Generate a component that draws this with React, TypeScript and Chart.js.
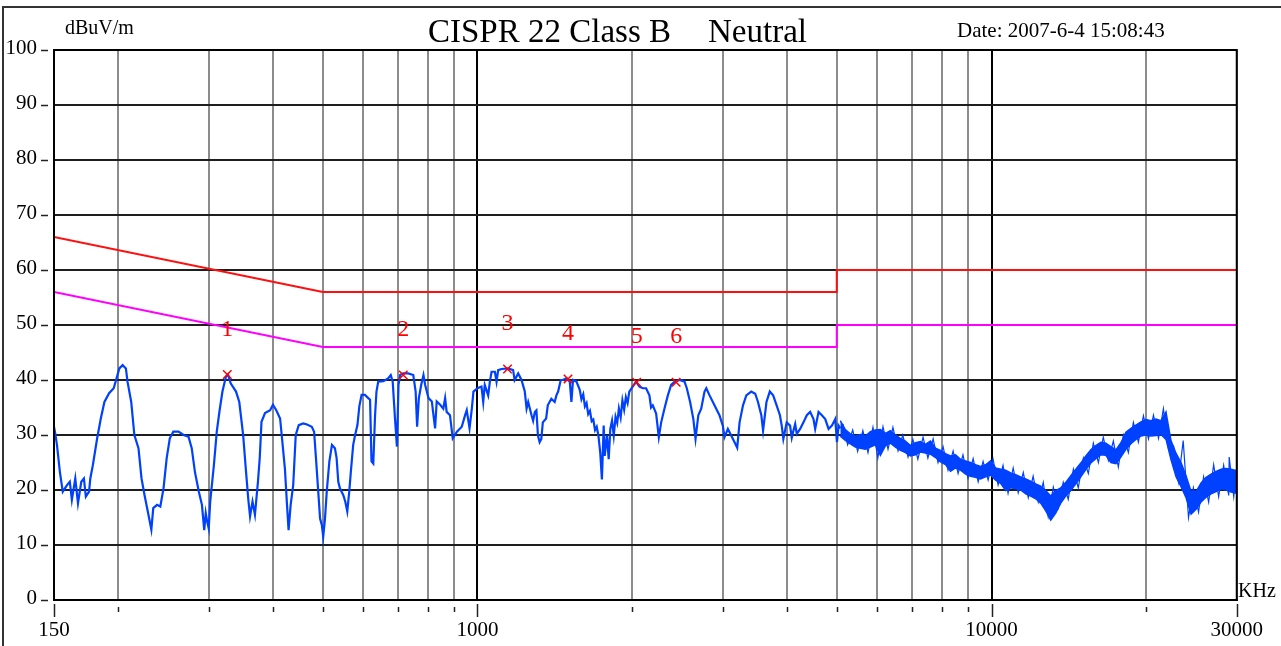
import React, { useEffect, useRef } from 'react';
import { Chart, registerables } from 'chart.js';

Chart.register(...registerables);

// ---------- axes ----------
const gridFreqs = [150, 200, 300, 400, 500, 600, 700, 800, 900, 1000, 2000, 3000, 4000, 5000, 6000, 7000, 8000, 9000, 10000, 20000, 30000];
const labeledFreqs = [150, 1000, 10000, 30000];
const decadeFreqs = [1000, 10000];
const yTickValues = [0, 10, 20, 30, 40, 50, 60, 70, 80, 90, 100];

// ---------- limit lines ----------
const qpLimitF = [150, 500, 5000, 5000, 30000];
const qpLimitV = [66, 56, 56, 60, 60];
const avLimitF = [150, 500, 5000, 5000, 30000];
const avLimitV = [56, 46, 46, 50, 50];

// ---------- peak markers ----------
const markerF = [326, 717, 1144, 1500, 2040, 2435];
const markerV = [41.0, 40.9, 42.0, 40.2, 39.6, 39.6];
const markerLabels = ['1', '2', '3', '4', '5', '6'];

// ---------- measured trace (kHz / dBuV) ----------
const traceLowF = [150, 151, 152, 154, 156, 159, 161, 162.5, 165, 167, 169.5, 171.5, 173, 175.5, 176.5, 178.5, 182, 185, 188, 192, 196, 198.5, 201, 204, 207, 208.5, 212, 215, 219, 222, 225, 229, 232, 234, 238, 241.5, 245, 248.5, 252, 256, 262, 268, 274, 278, 282, 287, 291, 294, 296, 298, 300, 302, 307, 311, 315, 319, 324, 327, 331, 339, 344, 347, 350, 355, 358, 361, 365, 369, 374, 377, 380, 386, 395, 400, 406, 413, 416, 422, 426, 429, 433, 438, 443, 449, 458, 466, 476, 481, 485, 490, 494, 498, 501, 505, 509, 515, 521, 528, 532, 536, 540, 544, 548, 553, 558, 563, 567, 573, 578, 584, 589, 595, 604, 613, 618, 622, 627, 632, 636, 641, 656, 670, 678, 684, 691, 697, 702, 707, 717, 733, 750, 758, 763, 769, 777, 785, 791, 797, 803, 815, 821, 827, 833, 846, 858, 865, 871, 884, 895, 912, 932, 946, 953, 965, 975, 982, 1000];
const traceLowV = [31.5, 30, 28.2, 23.3, 19.7, 20.9, 21.5, 18.2, 22.1, 17.6, 21.5, 22.1, 18.8, 19.7, 22.1, 24.5, 29.4, 33, 36, 37.6, 38.5, 40.3, 42.1, 42.7, 42.1, 39.7, 36, 30, 27.6, 22.1, 19.1, 15.5, 12.8, 16.7, 17.3, 17, 20.3, 25.8, 29.4, 30.6, 30.6, 30, 29.7, 27.6, 23.3, 19.7, 17.3, 12.7, 15.8, 14.2, 13, 17.9, 24.5, 30.6, 34.5, 37.9, 40.6, 41, 39.4, 37.9, 36, 33, 30, 22.7, 18.5, 15.2, 17.9, 15.5, 21.5, 25.8, 32.4, 34, 34.5, 35.5, 34.5, 33, 30, 23.9, 17.3, 12.7, 17.3, 20.9, 30, 31.8, 32.1, 31.9, 31.5, 30.6, 25.8, 19.7, 14.8, 13.6, 11.5, 14.8, 19.7, 25.2, 28.2, 27.6, 25.8, 21.5, 20.3, 19.7, 19.1, 17.9, 16.1, 19.7, 23.3, 28.2, 30, 31.8, 35.2, 37.3, 37.3, 36.7, 36.4, 25.2, 24.8, 33.6, 37.9, 39.7, 39.8, 40.3, 40.9, 39.7, 33, 27.9, 39.1, 40.9, 41.2, 41.2, 40.9, 37.9, 31.5, 36.7, 39.1, 40.9, 39.1, 37.9, 36.7, 36.1, 33.6, 31.2, 36.1, 35.5, 34.8, 36.7, 34.2, 33.6, 29.4, 30.6, 31.5, 33.6, 34.5, 31.2, 34.8, 37.9, 38.5];

const traceMidF = [1018, 1026, 1033, 1049, 1057, 1065, 1081, 1089, 1097, 1114, 1147, 1173, 1181, 1200, 1218, 1236, 1246, 1255, 1274, 1283, 1293, 1302, 1311, 1321, 1331, 1340, 1360, 1370, 1392, 1413, 1424, 1435, 1452, 1465, 1490, 1512, 1523, 1534, 1558, 1581, 1593, 1606, 1618, 1630, 1642, 1655, 1668, 1680, 1693, 1706, 1719, 1733, 1746, 1760, 1768, 1786, 1800, 1813, 1827, 1841, 1856, 1870, 1884, 1899, 1914, 1929, 1944, 1959, 1974, 2004, 2034, 2066, 2097, 2128, 2160, 2176, 2193, 2226, 2253, 2277, 2311, 2346, 2381, 2418, 2472, 2528, 2554, 2592, 2630, 2656, 2689, 2724, 2765, 2787, 2828, 2891, 2956, 3001, 3024, 3070, 3116, 3163, 3201, 3235, 3285, 3334, 3409, 3470, 3513, 3566, 3594, 3649, 3704, 3760, 3819, 3876, 3907, 3936, 3995, 4056, 4087, 4118, 4150, 4180, 4243, 4307, 4372, 4438, 4505, 4539, 4608, 4677, 4748, 4820, 4892, 4966, 5004, 5041, 5080];
const traceMidV = [38.8, 36, 39.1, 37.2, 39.7, 41.5, 41.5, 39.7, 41.8, 42, 42.1, 41.8, 40, 41.2, 40, 37.9, 34.8, 36, 33.6, 32.6, 34.2, 34.5, 29.9, 28.7, 29.3, 32.3, 33, 35.4, 36.6, 36, 37.2, 37.9, 40, 40, 40.3, 39.7, 36, 40, 39.7, 38.2, 36.5, 37.4, 35.2, 35.8, 33.8, 34.4, 32.5, 32.8, 30.9, 31.5, 29.9, 26.8, 21.9, 31.7, 26.2, 29.9, 25.6, 31.1, 32.6, 29.9, 33.3, 32.2, 34.8, 33.2, 36.3, 34.6, 36.9, 35.8, 37.9, 38.8, 39.7, 38.8, 38.5, 38.5, 37.2, 35.0, 35.4, 33.9, 29.6, 32.3, 34.8, 37.2, 39.1, 39.7, 40, 39.7, 38.5, 36, 32.9, 29.3, 33.6, 34.8, 37.9, 38.5, 37.2, 35.4, 33.6, 31.7, 29.6, 31.1, 29.9, 28.7, 27.7, 32.3, 35.4, 37.2, 37.9, 37.5, 36, 33.6, 30.8, 36, 37.9, 37.2, 35.4, 33.6, 31.7, 29.3, 32.3, 31.7, 29.5, 30.8, 32.0, 30.2, 31.1, 32.3, 33.6, 34.2, 32.9, 31.1, 34.2, 33.6, 32.9, 31.1, 31.7, 32.9, 28.7, 31.7, 31.2];

// above 5 MHz the sweep is a dense noise band: upper and lower envelope
const bandF = [5080, 5195, 5313, 5434, 5557, 5683, 5812, 5944, 6079, 6217, 6358, 6502, 6650, 6801, 6955, 7113, 7274, 7439, 7608, 7781, 7958, 8138, 8323, 8512, 8705, 8903, 9105, 9312, 9523, 9739, 9960, 10186, 10417, 10654, 10896, 11143, 11396, 11655, 11919, 12190, 12467, 12750, 13039, 13335, 13638, 13947, 14264, 14588, 14919, 15257, 15604, 15958, 16320, 16691, 17070, 17457, 17853, 18259, 18673, 19097, 19531, 19974, 20428, 20891, 21366, 21851, 22347, 22854, 23373, 23904, 24446, 25001, 25569, 26149, 26743, 27350, 27971, 28606, 29255, 30000];
const bandTop = [32.6, 31.0, 30.2, 29.8, 30.1, 29.8, 30.6, 30.9, 31.0, 30.3, 30.8, 30.0, 29.4, 28.9, 28.1, 28.6, 28.8, 28.3, 28.9, 27.6, 27.2, 26.6, 26.2, 26.4, 25.6, 25.3, 25.0, 24.6, 24.3, 24.6, 25.3, 24.0, 23.8, 23.6, 23.1, 22.8, 22.4, 22.0, 21.6, 21.1, 20.7, 19.9, 18.9, 19.9, 20.4, 21.4, 22.6, 23.8, 24.9, 26.2, 27.3, 28.1, 28.7, 28.5, 27.9, 27.3, 28.6, 30.5, 31.2, 31.8, 32.4, 32.8, 32.6, 32.9, 32.6, 34.2, 29.0, 26.7, 25.0, 22.6, 19.8, 19.7, 21.3, 22.3, 22.9, 23.4, 23.8, 23.9, 23.8, 23.5];
const bandBottom = [29.8, 29.0, 28.4, 27.8, 27.6, 27.4, 27.8, 28.2, 26.3, 28.0, 28.5, 27.8, 27.2, 26.8, 26.2, 26.4, 26.9, 26.7, 26.5, 25.9, 25.1, 24.6, 23.4, 24.0, 23.6, 22.9, 22.5, 22.3, 22.0, 22.4, 22.7, 21.8, 21.2, 19.9, 20.4, 20.2, 20.0, 19.3, 18.9, 18.4, 17.6, 16.2, 14.5, 15.8, 17.6, 18.9, 19.9, 21.1, 22.4, 23.7, 24.9, 25.7, 26.4, 26.3, 25.0, 24.8, 26.0, 27.4, 28.4, 29.2, 29.8, 30.0, 29.8, 29.9, 30.1, 29.2, 25.5, 22.4, 20.6, 18.6, 15.6, 16.5, 17.8, 18.7, 19.3, 19.7, 20.2, 20.0, 19.6, 19.4];

// individual noise spikes reaching past the band edges
const spikeF = [5140, 5250, 5370, 5490, 5620, 5750, 5880, 6010, 6150, 6290, 6430, 6580, 6720, 6880, 7030, 7190, 7360, 7520, 7700, 7870, 8050, 8230, 8420, 8610, 8800, 9000, 9210, 9420, 9630, 9850, 10070, 10300, 10530, 10770, 11020, 11270, 11530, 11790, 12050, 12330, 12610, 12890, 13190, 13490, 13790, 14100, 14430, 14750, 15090, 15430, 15780, 16140, 16500, 16880, 17260, 17650, 18050, 18460, 18880, 19310, 19750, 20200, 20660, 21130, 21600, 22100, 22600, 23100, 23600, 24170, 24700, 25280, 25860, 26450, 27050, 27660, 28290, 28940, 29000, 29600, 30000];
const spikeV = [32.0, 28.2, 30.9, 27.0, 30.8, 26.8, 31.4, 25.8, 31.5, 27.4, 31.4, 27.1, 30.0, 26.0, 29.2, 25.6, 29.6, 25.8, 29.3, 25.0, 27.9, 23.6, 27.1, 23.0, 26.4, 22.1, 25.7, 21.5, 25.2, 21.8, 25.6, 20.9, 24.5, 19.4, 24.0, 19.5, 23.2, 18.6, 22.5, 17.8, 21.4, 15.2, 20.5, 16.8, 21.4, 18.3, 23.8, 20.4, 25.8, 23.0, 28.5, 25.0, 29.6, 25.4, 28.9, 24.2, 30.0, 26.8, 32.3, 28.7, 33.5, 29.3, 33.6, 29.4, 34.8, 27.5, 28.0, 21.5, 29.0, 15.0, 20.4, 16.0, 22.4, 17.8, 24.6, 18.8, 24.5, 19.0, 26.0, 18.8, 24.2];

const zip = (f: number[], v: number[]) => f.map((x, i) => ({ x, y: v[i] }));

const SERIF = '"Liberation Serif", "Times New Roman", serif';
const TRACE_BLUE = '#0040ff';

const decorPlugin = {
  id: 'emiDecor',
  afterDraw(chart: any) {
    const { ctx, chartArea: a, scales } = chart;
    const xs = scales.x;
    const ys = scales.y;
    ctx.save();
    const line = (x1: number, y1: number, x2: number, y2: number) => {
      ctx.beginPath();
      ctx.moveTo(x1, y1);
      ctx.lineTo(x2, y2);
      ctx.stroke();
    };
    // outer frame (top + left)
    ctx.strokeStyle = '#333';
    ctx.lineWidth = 2;
    ctx.beginPath();
    ctx.moveTo(3, 646);
    ctx.lineTo(3, 7);
    ctx.lineTo(1281, 7);
    ctx.stroke();
    // plot frame
    ctx.strokeStyle = '#000';
    ctx.lineWidth = 2;
    ctx.strokeRect(a.left, a.top, a.right - a.left, a.bottom - a.top);
    // y dashes
    ctx.lineWidth = 1.5;
    ctx.strokeStyle = '#222';
    for (const v of yTickValues) {
      const py = Math.round(ys.getPixelForValue(v)) + 0.5;
      line(41, py, 48, py);
    }
    // x tick marks
    for (const f of gridFreqs) {
      const px = Math.round(xs.getPixelForValue(f)) + 0.5;
      const big = labeledFreqs.includes(f);
      line(px, a.bottom + (big ? 4 : 7), px, a.bottom + (big ? 17 : 12));
    }
    // texts
    ctx.fillStyle = '#000';
    ctx.textBaseline = 'alphabetic';
    ctx.textAlign = 'left';
    ctx.font = `33px ${SERIF}`;
    ctx.fillText('CISPR 22 Class B', 428, 42);
    ctx.fillText('Neutral', 708, 42);
    ctx.font = `20px ${SERIF}`;
    ctx.fillText('dBuV/m', 65, 34);
    ctx.font = `21px ${SERIF}`;
    ctx.fillText('Date: 2007-6-4 15:08:43', 957, 37);
    ctx.font = `20px ${SERIF}`;
    ctx.fillText('KHz', 1238, 597);
    // marker numbers
    ctx.fillStyle = '#ff0000';
    ctx.font = `24px ${SERIF}`;
    ctx.textAlign = 'center';
    ctx.textBaseline = 'middle';
    markerF.forEach((f, i) => {
      const px = xs.getPixelForValue(f);
      const py = ys.getPixelForValue(markerV[i]);
      ctx.fillText(markerLabels[i], px, py - 45);
    });
    ctx.restore();
  },
};

export default function App() {
  const canvasRef = useRef<HTMLCanvasElement | null>(null);

  useEffect(() => {
    document.body.style.margin = '0';
    const canvas = canvasRef.current;
    if (!canvas) return;
    const chart = new Chart(canvas, {
      type: 'line',
      data: {
        datasets: [
          {
            label: 'Markers',
            data: zip(markerF, markerV),
            showLine: false,
            pointStyle: 'crossRot',
            pointRadius: 6,
            pointBorderWidth: 1.5,
            pointBorderColor: '#ff0000',
            borderColor: '#ff0000',
            order: 0,
          },
          {
            label: 'Trace',
            data: [...zip(traceLowF, traceLowV), ...zip(traceMidF, traceMidV)],
            borderColor: TRACE_BLUE,
            borderWidth: 2.2,
            pointRadius: 0,
            tension: 0,
            order: 1,
          },
          {
            label: 'Band top',
            data: zip(bandF, bandTop),
            borderColor: TRACE_BLUE,
            backgroundColor: TRACE_BLUE,
            borderWidth: 1.4,
            pointRadius: 0,
            fill: '+1',
            order: 1,
          },
          {
            label: 'Band bottom',
            data: zip(bandF, bandBottom),
            borderColor: TRACE_BLUE,
            borderWidth: 1.4,
            pointRadius: 0,
            fill: false,
            order: 1,
          },
          {
            label: 'Spikes',
            data: zip(spikeF, spikeV),
            borderColor: TRACE_BLUE,
            borderWidth: 1.2,
            pointRadius: 0,
            fill: false,
            order: 1,
          },
          {
            label: 'QP limit',
            data: zip(qpLimitF, qpLimitV),
            borderColor: '#ff1010',
            borderWidth: 2,
            pointRadius: 0,
            order: 2,
          },
          {
            label: 'AV limit',
            data: zip(avLimitF, avLimitV),
            borderColor: '#ff00ff',
            borderWidth: 2,
            pointRadius: 0,
            order: 2,
          },
        ],
      },
      options: {
        animation: false,
        responsive: false,
        maintainAspectRatio: false,
        parsing: false as any,
        normalized: true,
        layout: { padding: { left: 0, top: 50, right: 44, bottom: 0 } },
        plugins: {
          legend: { display: false },
          tooltip: { enabled: false },
          title: { display: false },
        },
        scales: {
          x: {
            type: 'logarithmic',
            min: 150,
            max: 30000,
            afterBuildTicks: (scale: any) => {
              scale.ticks = gridFreqs.map((v) => ({ value: v }));
            },
            afterFit: (scale: any) => {
              scale.height = 46;
            },
            ticks: {
              autoSkip: false,
              maxRotation: 0,
              minRotation: 0,
              padding: 18,
              color: '#000',
              font: { family: SERIF, size: 21 },
              callback: (value: any) => (labeledFreqs.includes(Number(value)) ? String(value) : ''),
            },
            grid: {
              drawTicks: false,
              color: (c: any) => (c.tick && decadeFreqs.includes(c.tick.value) ? '#000' : '#8c8c8c'),
              lineWidth: 2,
            },
            border: { display: true, color: '#000', width: 2 },
          },
          y: {
            type: 'linear',
            min: 0,
            max: 100,
            afterBuildTicks: (scale: any) => {
              scale.ticks = yTickValues.map((v) => ({ value: v }));
            },
            afterFit: (scale: any) => {
              scale.width = 54;
            },
            ticks: {
              padding: 17,
              labelOffset: -2,
              color: '#000',
              font: { family: SERIF, size: 21 },
            },
            grid: {
              drawTicks: false,
              color: '#1e1e1e',
              lineWidth: 2,
            },
            border: { display: true, color: '#000', width: 2 },
          },
        },
      },
      plugins: [decorPlugin],
    });
    return () => chart.destroy();
  }, []);

  return (
    <div style={{ width: 1281, height: 646, background: '#fff' }}>
      <canvas ref={canvasRef} width={1281} height={646} style={{ display: 'block' }} />
    </div>
  );
}
